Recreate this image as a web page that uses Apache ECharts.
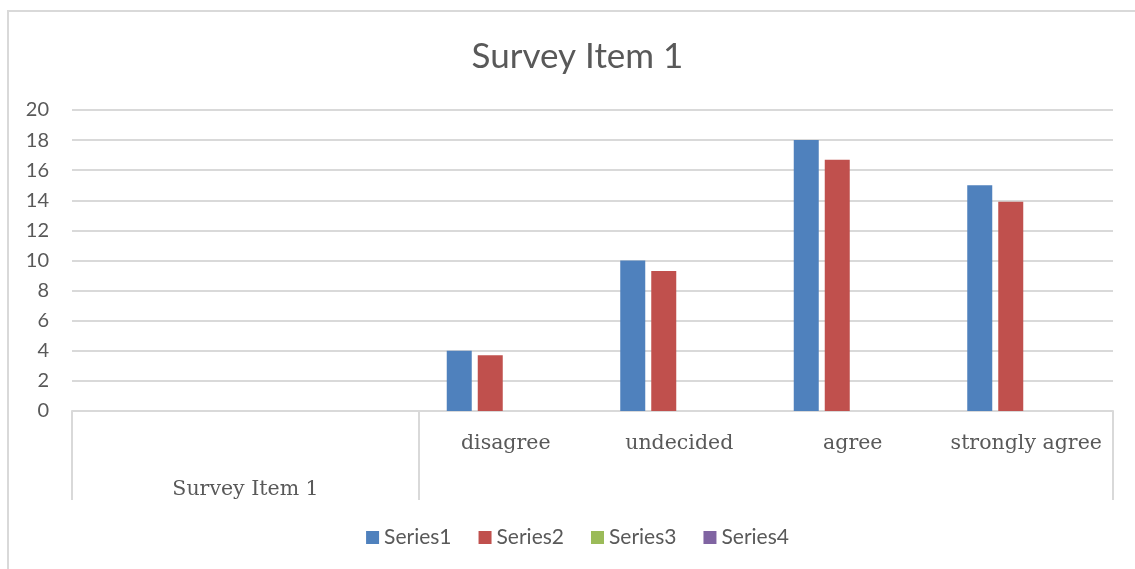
<!DOCTYPE html>
<html>
<head>
<meta charset="utf-8">
<script src="https://cdn.jsdelivr.net/npm/echarts@6/dist/echarts.min.js"></script>
<style>
  html, body { margin: 0; padding: 0; background: #fff; overflow: hidden; }
  #chart { width: 1155px; height: 569px; }
</style>
</head>
<body>
<div id="chart"></div>
<script>
// Categories along the bottom axis (the first two sit under the "Survey Item 1" group)
const categories = ['', '', 'disagree', 'undecided', 'agree', 'strongly agree'];
// Outer level of the category axis: group name and how many categories it spans
const groupNames = ['Survey Item 1', ''];
const groupSpans = [2, 4];

const seriesNames = ['Series1', 'Series2', 'Series3', 'Series4'];
const series1 = [null, null, 4, 10, 18, 15];
const series2 = [null, null, 3.7, 9.3, 16.7, 13.9];
const series3 = [null, null, null, null, null, null];
const series4 = [null, null, null, null, null, null];

const yMin = 0, yMax = 20, yStep = 2;

const colors = ['#4F81BD', '#C0504D', '#9BBB59', '#8064A2'];
const textColor = '#595959';
const lineColor = '#d9d9d9';
const calibriLike = 'Lato, "Open Sans", sans-serif';

// Indices where each outer group starts, and the centre of each group
const groupStarts = [];
const groupCenters = {};
let acc = 0;
groupSpans.forEach((span, i) => {
  groupStarts.push(acc);
  groupCenters[acc + span / 2] = groupNames[i];
  acc += span;
});

const chart = echarts.init(document.getElementById('chart'));
chart.setOption({
  animation: false,
  color: colors,
  title: {
    text: 'Survey Item 1',
    left: 'center',
    top: 34,
    textStyle: { fontFamily: calibriLike, fontSize: 35, fontWeight: 'normal', color: textColor }
  },
  graphic: [{
    type: 'rect',
    shape: { x: 8, y: 11, width: 1400, height: 800 },
    style: { fill: 'none', stroke: lineColor, lineWidth: 2 },
    silent: true
  }],
  legend: {
    data: seriesNames,
    left: 'center',
    top: 522,
    itemWidth: 13,
    itemHeight: 13,
    itemGap: 27,
    icon: 'rect',
    textStyle: { fontFamily: calibriLike, fontSize: 21, color: textColor }
  },
  grid: { left: 72, right: 42, top: 110, bottom: 158, containLabel: false },
  xAxis: [{
    type: 'category',
    data: categories,
    axisLine: { lineStyle: { color: lineColor, width: 2 } },
    axisTick: {
      show: true,
      length: 89,
      interval: (i) => groupStarts.indexOf(i) !== -1,
      lineStyle: { color: lineColor, width: 2 }
    },
    axisLabel: {
      interval: 0,
      margin: 22,
      fontFamily: '"DejaVu Serif", serif',
      fontSize: 20.5,
      color: textColor
    }
  }, {
    type: 'value',
    position: 'bottom',
    min: 0,
    max: categories.length,
    interval: 1,
    axisLine: { show: false },
    axisTick: { show: false },
    splitLine: { show: false },
    axisLabel: {
      margin: 68,
      showMinLabel: true,
      showMaxLabel: true,
      formatter: (v) => groupCenters[v] || '',
      fontFamily: '"DejaVu Serif", serif',
      fontSize: 20.5,
      color: textColor
    }
  }],
  yAxis: {
    type: 'value',
    min: yMin,
    max: yMax,
    interval: yStep,
    axisLine: { show: false },
    axisTick: { show: false },
    splitLine: { lineStyle: { color: lineColor, width: 2 } },
    axisLabel: { margin: 23, fontFamily: calibriLike, fontSize: 20, color: textColor }
  },
  series: [series1, series2, series3, series4].map((d, i) => ({
    name: seriesNames[i],
    type: 'bar',
    xAxisIndex: 0,
    data: d,
    barWidth: 25,
    barGap: '24%',
    itemStyle: { color: colors[i] }
  }))
});
</script>
</body>
</html>
